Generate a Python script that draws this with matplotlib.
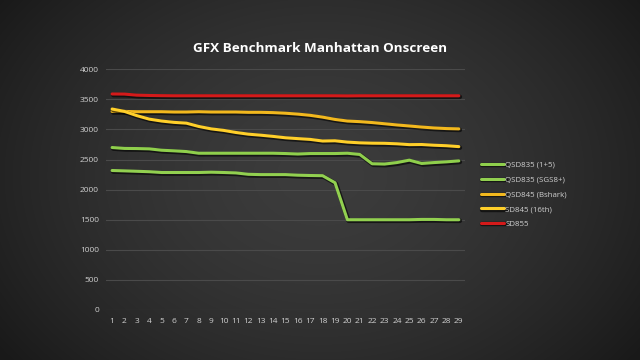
import numpy as np
import matplotlib
matplotlib.use("Agg")
import matplotlib.pyplot as plt
import matplotlib.patheffects as pe

runs = list(range(1, 30))

qsd835_1p5 = [2700, 2685, 2683, 2678, 2655, 2645, 2633, 2605, 2605, 2605, 2605, 2605, 2605, 2605, 2600,
              2592, 2600, 2600, 2600, 2605, 2585, 2430, 2425, 2450, 2490, 2435, 2450, 2462, 2478]
qsd835_sgs8 = [2318, 2312, 2305, 2298, 2285, 2285, 2285, 2285, 2290, 2285, 2278, 2255, 2250, 2250, 2250,
               2240, 2235, 2232, 2115, 1500, 1500, 1500, 1500, 1500, 1500, 1505, 1505, 1500, 1500]
qsd845_bshark = [3300, 3300, 3295, 3295, 3295, 3290, 3290, 3295, 3290, 3290, 3290, 3285, 3285, 3280, 3270,
                 3255, 3235, 3205, 3167, 3140, 3130, 3115, 3095, 3075, 3058, 3040, 3025, 3015, 3010]
sd845_16th = [3340, 3300, 3230, 3172, 3140, 3118, 3105, 3050, 3010, 2985, 2950, 2922, 2905, 2885, 2862,
              2848, 2835, 2808, 2812, 2790, 2778, 2772, 2770, 2762, 2748, 2750, 2738, 2730, 2715]
sd855 = [3590, 3588, 3570, 3565, 3562, 3560, 3560, 3560, 3560, 3560, 3560, 3560, 3560, 3560, 3560,
         3560, 3560, 3560, 3560, 3558, 3560, 3560, 3560, 3560, 3560, 3560, 3560, 3560, 3560]

series_names = ["QSD835 (1+5)", "QSD835 (SGS8+)", "QSD845 (Bshark)", "SD845 (16th)", "SD855"]
series_values = [qsd835_1p5, qsd835_sgs8, qsd845_bshark, sd845_16th, sd855]
series_colors = ["#8fcf4c", "#92d050", "#f2b81e", "#ffcf2a", "#d41a1a"]

yticks = [0, 500, 1000, 1500, 2000, 2500, 3000, 3500, 4000]
title = "GFX Benchmark Manhattan Onscreen"

fig = plt.figure(figsize=(6.4, 3.6), dpi=100)

# radial gradient background
bg = fig.add_axes([0, 0, 1, 1], zorder=-10)
yy, xx = np.mgrid[0:360, 0:640]
r = np.sqrt(((xx - 320) / 400.0) ** 2 + ((yy - 175) / 300.0) ** 2)
r = np.clip(r, 0, 1)
c_in = np.array([0x3c, 0x3c, 0x3c]) / 255.0
c_out = np.array([0x19, 0x19, 0x19]) / 255.0
img = c_in[None, None, :] * (1 - r[..., None] ** 1.6) + c_out[None, None, :] * (r[..., None] ** 1.6)
bg.imshow(img, aspect="auto", extent=[0, 1, 0, 1], origin="upper")
bg.set_axis_off()

ax = fig.add_axes([0.1655, 0.1389, 0.5611, 0.6686])
ax.set_facecolor("none")
for sp in ax.spines.values():
    sp.set_visible(False)

shadow = [pe.SimpleLineShadow(offset=(0.8, -0.8), shadow_color="black", alpha=0.6, linewidth=3.2), pe.Normal()]
for name, vals, col in zip(series_names, series_values, series_colors):
    ax.plot(runs, vals, color=col, lw=2.2, label=name, solid_capstyle="round",
            solid_joinstyle="round", path_effects=shadow, zorder=3)

ax.set_xlim(0.5, 29.5)
ax.set_ylim(0, 4000)
ax.set_yticks(yticks)
ax.set_xticks(runs)
ax.grid(axis="y", color="#4a4a4a", lw=0.8, zorder=0)
ax.tick_params(axis="both", length=0, colors="#d0d0d0", labelsize=6)
ax.tick_params(axis="x", pad=6)
ax.tick_params(axis="y", pad=5)
for lab in ax.get_xticklabels() + ax.get_yticklabels():
    lab.set_family("Open Sans")

fig.text(0.5, 0.866, title, ha="center", va="center", color="white",
         fontsize=9.7, fontweight="bold", family="Open Sans")

leg = fig.legend(loc="upper left", bbox_to_anchor=(0.74, 0.572), frameon=False,
                 handlelength=3.0, handletextpad=0.1, labelspacing=0.92,
                 prop={"family": "Open Sans", "size": 5.7})
for t in leg.get_texts():
    t.set_color("#d0d0d0")

fig.savefig("out.png", dpi=100)
